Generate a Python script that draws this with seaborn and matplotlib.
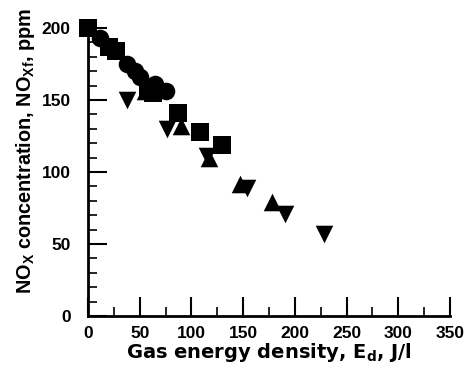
import matplotlib
matplotlib.use("Agg")
import matplotlib.pyplot as plt
import seaborn as sns
import pandas as pd
from matplotlib.ticker import MultipleLocator

sns.set_style("ticks")
plt.rcParams['font.family'] = ['Liberation Sans', 'DejaVu Sans']
plt.rcParams['font.weight'] = 'bold'
plt.rcParams['mathtext.default'] = 'regular'
plt.rcParams['text.color'] = 'black'
plt.rcParams['axes.labelcolor'] = 'black'
plt.rcParams['axes.edgecolor'] = 'black'
plt.rcParams['xtick.color'] = 'black'
plt.rcParams['ytick.color'] = 'black'

# Data
sq_x = [0, 20, 27, 58, 63, 87, 108, 130]
sq_y = [200, 187, 184, 156, 155, 141, 128, 119]
ci_x = [12, 38, 45, 50, 65, 75]
ci_y = [193, 175, 170, 166, 161, 156]
up_x = [55, 90, 117, 147, 178]
up_y = [156, 132, 110, 92, 79]
dn_x = [38, 76, 115, 154, 190, 228]
dn_y = [150, 130, 111, 89, 71, 57]

series = [
    (sq_x, sq_y, 's', 150),
    (ci_x, ci_y, 'o', 160),
    (up_x, up_y, '^', 160),
    (dn_x, dn_y, 'v', 160),
]

fig = plt.figure(figsize=(4.71, 3.74), dpi=100)
ax = fig.add_axes([88/471, 58/374, (450-88)/471, (316-28)/374])

for xs, ys, m, s in series:
    df = pd.DataFrame({'x': xs, 'y': ys})
    sns.scatterplot(data=df, x='x', y='y', marker=m, s=s, color='black',
                    edgecolor='black', linewidth=0, ax=ax, clip_on=False, zorder=3)

ax.set_xlim(0, 350)
ax.set_ylim(0, 200)
ax.xaxis.set_major_locator(MultipleLocator(50))
ax.xaxis.set_minor_locator(MultipleLocator(25))
ax.yaxis.set_major_locator(MultipleLocator(50))
ax.yaxis.set_minor_locator(MultipleLocator(10))
for sp in ['top', 'right']:
    ax.spines[sp].set_visible(False)
for sp in ['left', 'bottom']:
    ax.spines[sp].set_linewidth(2)
    ax.spines[sp].set_color('black')
ax.tick_params(which='major', direction='in', length=13.5, width=1.5,
               labelsize=12.5, colors='black')
ax.tick_params(axis='x', which='major', pad=7.5)
ax.tick_params(axis='y', which='major', pad=12.5)
ax.tick_params(which='minor', direction='in', length=6.5, width=1.2, colors='black')
for lab in ax.get_xticklabels() + ax.get_yticklabels():
    lab.set_fontweight('bold')

ax.set_xlabel(r"Gas energy density, E$_d$, J/l", fontsize=14, fontweight='bold',
              family=['DejaVu Sans'], labelpad=0, color='black')
ax.set_ylabel(r"NO$_X$ concentration, NO$_{Xf}$, ppm", fontsize=14.3, fontweight='bold',
              labelpad=3, color='black')
ax.yaxis.label.set_y(0.573)

fig.savefig("out.png", dpi=100)
